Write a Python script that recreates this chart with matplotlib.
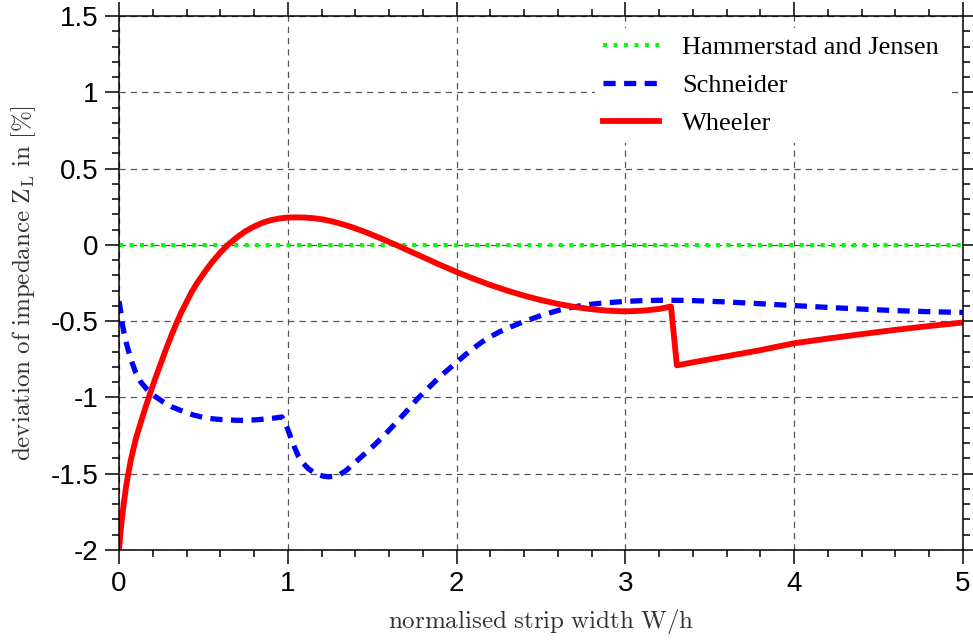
import matplotlib
matplotlib.use('Agg')
import matplotlib.pyplot as plt
from matplotlib.ticker import MultipleLocator

# values
w_hj = [0.0, 5.0]
dev_hj = [0.0, 0.0]

w_schneider = [0.0, 0.005, 0.01, 0.02, 0.03, 0.045, 0.06, 0.08, 0.1, 0.13,
               0.168, 0.21, 0.257, 0.31, 0.376, 0.44, 0.515, 0.58, 0.634, 0.7,
               0.753, 0.82, 0.88, 0.93, 0.965, 1.0, 1.03, 1.06, 1.09, 1.12,
               1.15, 1.178, 1.21, 1.24, 1.27, 1.307, 1.35, 1.406, 1.45, 1.505,
               1.55, 1.6, 1.65, 1.7, 1.763, 1.81, 1.862, 1.91, 1.96, 2.0,
               2.05, 2.1, 2.15, 2.2, 2.258, 2.32, 2.376, 2.44, 2.5, 2.56,
               2.614, 2.68, 2.753, 2.85, 2.981, 3.11, 3.228, 3.367, 3.486, 3.614,
               3.753, 3.9, 4.0, 4.2, 4.4, 4.6, 4.8, 5.0]
dev_schneider = [-0.37, -0.40, -0.44, -0.52, -0.58, -0.65, -0.71, -0.78, -0.84, -0.90,
                 -0.95, -0.99, -1.026, -1.06, -1.09, -1.115, -1.135, -1.143, -1.147, -1.15,
                 -1.15, -1.146, -1.14, -1.134, -1.128, -1.21, -1.30, -1.38, -1.43, -1.465,
                 -1.49, -1.506, -1.516, -1.52, -1.518, -1.507, -1.475, -1.419, -1.375, -1.32,
                 -1.272, -1.215, -1.155, -1.095, -1.015, -0.963, -0.906, -0.855, -0.808, -0.77,
                 -0.722, -0.678, -0.637, -0.602, -0.568, -0.538, -0.513, -0.487, -0.463, -0.443,
                 -0.426, -0.41, -0.395, -0.383, -0.372, -0.365, -0.363, -0.364, -0.369, -0.375,
                 -0.383, -0.392, -0.398, -0.41, -0.421, -0.431, -0.438, -0.443]

w_wheeler = [0.0, 0.01, 0.02, 0.03, 0.04, 0.05, 0.07, 0.1, 0.13, 0.16,
             0.19, 0.22, 0.25, 0.28, 0.31, 0.34, 0.37, 0.4, 0.43, 0.46,
             0.5, 0.55, 0.6, 0.65, 0.7, 0.75, 0.8, 0.85, 0.9, 0.95,
             1.0, 1.05, 1.1, 1.15, 1.2, 1.25, 1.3, 1.35, 1.4, 1.45,
             1.5, 1.55, 1.6, 1.65, 1.7, 1.8, 1.9, 2.0, 2.1, 2.2,
             2.3, 2.4, 2.5, 2.6, 2.7, 2.8, 2.9, 3.0, 3.1, 3.2,
             3.27, 3.305, 3.4, 3.5, 3.6, 3.7, 3.8, 3.9, 4.0, 4.2,
             4.4, 4.6, 4.8, 5.0]
dev_wheeler = [-2.0, -1.87, -1.77, -1.68, -1.60, -1.53, -1.41, -1.27, -1.16, -1.055,
               -0.955, -0.86, -0.77, -0.68, -0.595, -0.515, -0.44, -0.375, -0.31, -0.255,
               -0.19, -0.115, -0.05, 0.005, 0.05, 0.09, 0.12, 0.145, 0.162, 0.173,
               0.179, 0.18, 0.179, 0.175, 0.168, 0.157, 0.143, 0.127, 0.108, 0.088,
               0.066, 0.043, 0.019, -0.005, -0.03, -0.08, -0.13, -0.178, -0.222, -0.263,
               -0.30, -0.333, -0.362, -0.387, -0.407, -0.422, -0.432, -0.436, -0.432, -0.42,
               -0.404, -0.79, -0.77, -0.75, -0.73, -0.71, -0.69, -0.667, -0.645, -0.614,
               -0.585, -0.557, -0.532, -0.509]

x_ticks = [0, 1, 2, 3, 4, 5]
y_ticks = [-2, -1.5, -1, -0.5, 0, 0.5, 1, 1.5]
y_tick_labels = ['-2', '-1.5', '-1', '-0.5', '0', '0.5', '1', '1.5']

plt.rcParams['mathtext.fontset'] = 'cm'

fig = plt.figure(figsize=(9.73, 6.42), dpi=100)
ax = fig.add_axes([119 / 973, 1 - 550 / 642, (963 - 119) / 973, (550 - 16) / 642])

ax.plot(w_hj, dev_hj, color='#00ff00', lw=2.9, linestyle=(0, (1.0, 1.6)),
        dash_capstyle='butt', label='Hammerstad and Jensen')
ax.plot(w_schneider, dev_schneider, color='#0000ff', lw=3.8, linestyle=(0, (2.3, 1.6)),
        dash_capstyle='butt', label='Schneider')
ax.plot(w_wheeler, dev_wheeler, color='#ff0000', lw=4.2, label='Wheeler')

ax.set_xlim(0, 5)
ax.set_ylim(-2, 1.5)
ax.set_xticks(x_ticks)
ax.set_xticklabels([str(t) for t in x_ticks])
ax.set_yticks(y_ticks)
ax.set_yticklabels(y_tick_labels)
ax.xaxis.set_minor_locator(MultipleLocator(0.2))
ax.yaxis.set_minor_locator(MultipleLocator(0.1))

ax.tick_params(which='both', direction='out', top=True, right=True,
               width=1.1, color='black')
ax.tick_params(which='major', length=10, labelsize=20, pad=5)
ax.tick_params(which='minor', length=5)
for lab in ax.get_xticklabels() + ax.get_yticklabels():
    lab.set_family('Liberation Sans')
for sp in ax.spines.values():
    sp.set_linewidth(1.1)

ax.grid(True, which='major', color='#555555', lw=0.9, linestyle=(0, (5, 4)))

ax.set_xlabel(r'$\mathrm{normalised\ strip\ width\ W/h}$', fontsize=18,
              color='#333333', labelpad=7)
ax.set_ylabel(r'$\mathrm{deviation\ of\ impedance\ Z_L\ in\ [\%]}$', fontsize=18,
              color='#333333', labelpad=9)

leg = ax.legend(loc='upper right', frameon=True, fancybox=False, framealpha=1,
                facecolor='white', edgecolor='none',
                prop={'family': 'Liberation Serif', 'size': 19},
                handlelength=2.1, handletextpad=0.9, labelspacing=0.55,
                borderpad=0.3, borderaxespad=0,
                bbox_to_anchor=(0.981, 0.9775))

fig.savefig('out.png', dpi=100)
